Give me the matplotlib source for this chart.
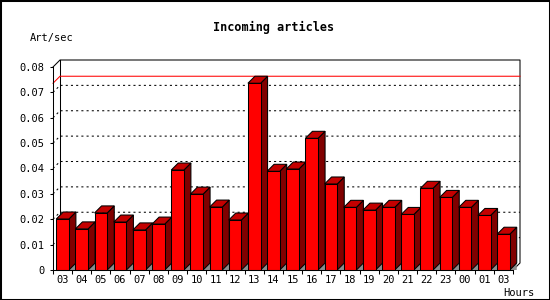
import numpy as np
import matplotlib
matplotlib.use("Agg")
import matplotlib.pyplot as plt
from matplotlib.patches import Polygon, Rectangle

HOURS = ["03", "04", "05", "06", "07", "08", "09", "10", "11", "12", "13", "14",
         "15", "16", "17", "18", "19", "20", "21", "22", "23", "00", "01", "03"]
RATES = [0.0201, 0.0162, 0.0225, 0.0189, 0.0158, 0.0181, 0.0394, 0.0299,
         0.0248, 0.0197, 0.0736, 0.0389, 0.0398, 0.0519, 0.0339, 0.0247,
         0.0236, 0.0247, 0.0219, 0.0322, 0.0286, 0.0247, 0.0215, 0.0141]
Y_TICKS = [0, 0.01, 0.02, 0.03, 0.04, 0.05, 0.06, 0.07, 0.08]
Y_LABELS = ["0", "0.01", "0.02", "0.03", "0.04", "0.05", "0.06", "0.07", "0.08"]

TITLE = "Incoming articles"
Y_TITLE = "Art/sec"
X_TITLE = "Hours"

W, H = 550, 300
DEPTH = 7          # 3d depth in pixels
BAR_W = 0.66       # fraction of slot
FONT = "DejaVu Sans Mono"

FRONT = "#ff0000"
SIDE = "#800000"
TOP = "#c40000"
SHADE = "#8c8c8c"

fig = plt.figure(figsize=(W / 100, H / 100), dpi=100)
fig.patch.set_facecolor("white")
ax = fig.add_axes([53 / W, 30 / H, 460 / W, 203 / H])
n = len(HOURS)
ax.set_xlim(-0.5, n - 0.5)
ax.set_ylim(Y_TICKS[0], Y_TICKS[-1])
ax.patch.set_alpha(0)

# depth offset in data units
dx = DEPTH / (460 / n)
dy = DEPTH / (203 / (Y_TICKS[-1] - Y_TICKS[0]))
x0, x1 = -0.5, n - 0.5
ytop = Y_TICKS[-1]

lw = 0.75

# back wall frame
ax.plot([x0, x0 + dx, x1 + dx, x1 + dx, x1],
        [ytop, ytop + dy, ytop + dy, dy, 0],
        color="black", lw=lw, clip_on=False, zorder=1)
ax.plot([x0 + dx, x0 + dx], [dy, ytop + dy], color="black", lw=lw,
        clip_on=False, zorder=1)

# dotted grid on the back wall
for v in Y_TICKS[1:-1]:
    ax.plot([x0, x0 + dx, x1 + dx], [v, v + dy, v + dy], color="black",
            lw=lw, dashes=(2, 3), clip_on=False, zorder=1)

# peak line
peak = max(RATES)
ax.plot([x0, x0 + dx, x1 + dx], [peak, peak + dy, peak + dy], color="red",
        lw=lw, clip_on=False, zorder=1.5)

# 3d bars
for i, v in enumerate(RATES):
    l = i - BAR_W / 2
    r = i + BAR_W / 2
    ax.add_patch(Polygon([(r, 0), (r + dx, dy), (r + dx, 0)], closed=True,
                         facecolor=SHADE, edgecolor="none", zorder=2,
                         clip_on=False))
    ax.add_patch(Polygon([(r, 0), (r + dx, dy), (r + dx, v + dy), (r, v)],
                         closed=True, facecolor=SIDE, edgecolor="black",
                         lw=lw, zorder=2, clip_on=False))
    ax.add_patch(Polygon([(l, v), (l + dx, v + dy), (r + dx, v + dy), (r, v)],
                         closed=True, facecolor=TOP, edgecolor="black",
                         lw=lw, zorder=2, clip_on=False))
    ax.add_patch(Rectangle((l, 0), BAR_W, v, facecolor=FRONT,
                           edgecolor="black", lw=lw, zorder=2, clip_on=False))

# axes
for s in ("top", "right"):
    ax.spines[s].set_visible(False)
for s in ("left", "bottom"):
    ax.spines[s].set_linewidth(lw)
    ax.spines[s].set_zorder(3)

ax.set_yticks(Y_TICKS)
ax.set_yticklabels(Y_LABELS)
ax.set_xticks(np.arange(n))
ax.set_xticklabels(HOURS)
ax.set_xticks(np.arange(n + 1) - 0.5, minor=True)
ax.tick_params(axis="y", length=2.5, width=lw, pad=3.6, labelsize=7.5)
ax.tick_params(axis="x", which="major", length=0, pad=3.6, labelsize=7.5)
ax.tick_params(axis="x", which="minor", length=3, width=lw)
for lab in ax.get_xticklabels() + ax.get_yticklabels():
    lab.set_family(FONT)

fig.text(274 / W, 1 - 27.5 / H, TITLE, ha="center", va="center",
         family=FONT, weight="bold", fontsize=8.5)
fig.text(30 / W, 1 - 37.5 / H, Y_TITLE, ha="left", va="center",
         family=FONT, fontsize=7.5)
fig.text(534 / W, 1 - 292.5 / H, X_TITLE, ha="right", va="center",
         family=FONT, fontsize=7.5)

fig.patches.append(Rectangle((0, 0), 1, 1, transform=fig.transFigure,
                             fill=False, edgecolor="black", lw=2.2))

fig.savefig("out.png", dpi=100, facecolor="white")
